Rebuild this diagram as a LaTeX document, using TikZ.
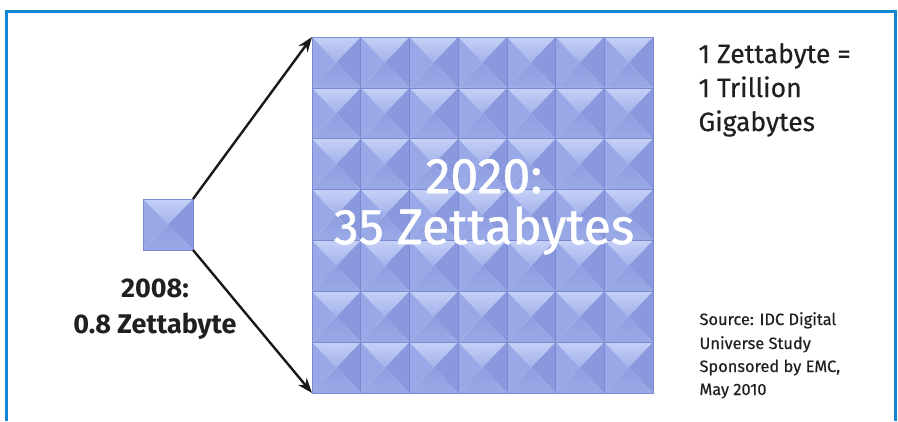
\documentclass[tikz,border=0pt]{standalone}
\usepackage{fontspec}
\setmainfont{Fira Sans}
\usetikzlibrary{arrows.meta}

\definecolor{framecol}{RGB}{20,135,210}
\definecolor{faceTopA}{RGB}{198,209,247}
\definecolor{faceTopB}{RGB}{162,177,234}
\definecolor{faceLeft}{RGB}{153,168,230}
\definecolor{faceRight}{RGB}{138,153,221}
\definecolor{faceBottomA}{RGB}{143,158,224}
\definecolor{faceBottomB}{RGB}{154,169,230}
\definecolor{seam}{RGB}{122,137,208}
\definecolor{txt}{RGB}{32,32,32}

% One bevelled tile: x0, y0 (top-left corner), width, height
\newcommand\pyramidtile[4]{%
  \shade[top color=faceTopA, bottom color=faceTopB]
        (#1,#2) -- (#1+#3,#2) -- (#1+#3/2,#2+#4/2) -- cycle;
  \fill[faceRight]  (#1+#3,#2) -- (#1+#3,#2+#4) -- (#1+#3/2,#2+#4/2) -- cycle;
  \shade[top color=faceBottomA, bottom color=faceBottomB]
        (#1+#3,#2+#4) -- (#1,#2+#4) -- (#1+#3/2,#2+#4/2) -- cycle;
  \fill[faceLeft]   (#1,#2+#4) -- (#1,#2) -- (#1+#3/2,#2+#4/2) -- cycle;
  \draw[seam, line width=0.7pt] (#1,#2) rectangle (#1+#3,#2+#4);
}

\tikzset{
  frameline/.style={draw=framecol, line width=3pt},
  block/.style={rectangle, inner sep=0pt, outer sep=0pt},
  arrowline/.style={line width=2.4pt, black!90, -{Stealth[length=15pt,width=11pt]}},
  bigtext/.style={white, font=\fontsize{50}{60}\selectfont\addfontfeature{FakeBold=1}, anchor=base},
  labeltext/.style={txt, font=\bfseries\fontsize{27}{32}\selectfont, anchor=base},
  notetext/.style={txt, font=\fontsize{26.5}{34}\selectfont\addfontfeature{FakeBold=0.4}, anchor=base west},
  sourcetext/.style={txt, font=\fontsize{16.4}{24}\selectfont\addfontfeature{FakeBold=0.4}, anchor=base west},
}

\begin{document}
\begin{tikzpicture}[x=1pt,y=-1pt]
  \useasboundingbox (0,0) rectangle (898,421);
  \fill[white] (0,0) rectangle (898,421);
  \draw[frameline] (6,421) -- (6,11) -- (895,11) -- (895,421);

  % the 2020 block: 7 x 7 tiles
  \node[block, minimum width=341pt, minimum height=356pt] (big) at (482.5,215) {};
  \foreach \i in {0,...,6}{
    \foreach \j in {0,...,6}{
      \pyramidtile{312+\i*48.714}{37+\j*50.857}{48.714}{50.857}
    }
  }

  % the 2008 block: a single tile
  \node[block, minimum width=50pt, minimum height=51pt] (small) at (168,224.5) {};
  \pyramidtile{143}{199}{50}{51}

  % growth arrows
  \draw[arrowline] (small.north east) -- (big.north west);
  \draw[arrowline] (small.south east) -- (big.south west);

  % labels
  \node[bigtext] (y2020) at (484,193) {2020:};
  \node[bigtext] (z35) at (484,244) {35 Zettabytes};

  \node[labeltext] (y2008) at (155,297) {2008:};
  \node[labeltext] (z08) at (155,333) {0.8 Zettabyte};

  \node[notetext] (n1) at (695,63) {1 Zettabyte =};
  \node[notetext] (n2) at (695,97) {1 Trillion};
  \node[notetext] (n3) at (695,131) {Gigabytes};

  \node[sourcetext] (s1) at (696,325) {Source: IDC Digital};
  \node[sourcetext] (s2) at (696,349) {Universe Study};
  \node[sourcetext] (s3) at (696,372) {Sponsored by EMC,};
  \node[sourcetext] (s4) at (696,395) {May 2010};
\end{tikzpicture}
\end{document}
